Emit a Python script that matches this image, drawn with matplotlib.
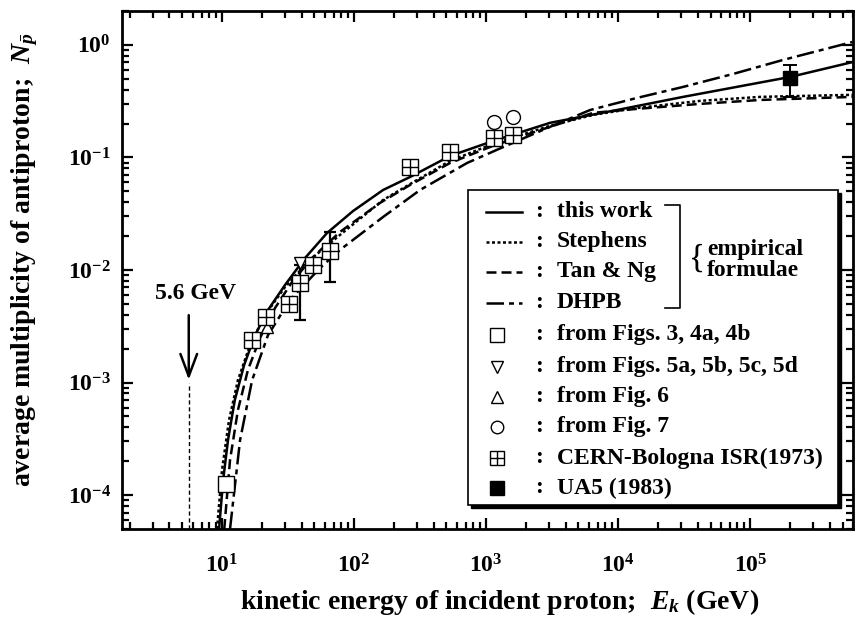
import numpy as np
import matplotlib
matplotlib.use("Agg")
import matplotlib.pyplot as plt
from matplotlib.lines import Line2D
from matplotlib.patches import Rectangle

plt.rcParams['font.family'] = ['Liberation Serif', 'DejaVu Serif']
plt.rcParams['font.weight'] = 'bold'
plt.rcParams['mathtext.fontset'] = 'custom'
plt.rcParams['mathtext.rm'] = 'Liberation Serif:bold'
plt.rcParams['mathtext.bf'] = 'Liberation Serif:bold'
plt.rcParams['mathtext.it'] = 'Liberation Serif:italic'

# curves (kinetic energy in GeV, multiplicity)
this_work_E = [9.5, 10.2, 11.1, 12.5, 14.7, 17.8, 22.3, 30.0, 42.6, 62.4, 98.2, 166, 266, 533,
               1130, 3050, 9830, 31000, 2.01e5, 6.03e5]
this_work_N = [5.0e-5, 1.36e-4, 3.08e-4, 6.99e-4, 1.43e-3, 2.64e-3, 4.41e-3, 7.36e-3, 1.28e-2,
               2.13e-2, 3.34e-2, 5.14e-2, 6.71e-2, 0.103, 0.140, 0.203, 0.264, 0.345, 0.519, 0.706]

stephens_E = [9.17, 10.0, 11.3, 13.2, 16.3, 21.2, 30.0, 46.4, 78.3, 166, 266, 533, 1130, 3050,
              6470, 13900, 41800, 1.19e5, 6.03e5]
stephens_N = [5.0e-5, 1.67e-4, 4.64e-4, 1.05e-3, 2.15e-3, 3.98e-3, 7.06e-3, 1.23e-2, 2.05e-2,
              4.19e-2, 5.81e-2, 9.31e-2, 0.132, 0.191, 0.239, 0.275, 0.318, 0.345, 0.360]

tan_ng_E = [10.4, 11.5, 13.2, 15.7, 19.4, 25.2, 33.9, 48.1, 78.3, 157, 266, 533, 1130, 3050,
            6470, 13900, 41800, 1.19e5, 6.03e5]
tan_ng_N = [5.0e-5, 2.05e-4, 5.70e-4, 1.29e-3, 2.49e-3, 4.59e-3, 7.82e-3, 1.28e-2, 2.18e-2,
            3.94e-2, 5.70e-2, 8.93e-2, 0.127, 0.187, 0.249, 0.270, 0.299, 0.324, 0.345]

dhpb_E = [11.5, 13.7, 16.9, 22.3, 32.7, 55.2, 78.3, 166, 316, 718, 1210, 3050, 6140, 13900,
          31000, 74300, 1.78e5, 5.93e5]
dhpb_N = [5.0e-5, 3.08e-4, 1.05e-3, 2.64e-3, 5.41e-3, 1.04e-2, 1.51e-2, 2.96e-2, 5.14e-2,
          8.93e-2, 0.117, 0.187, 0.264, 0.338, 0.423, 0.552, 0.736, 1.06]

# data points
figs34_E = [10.7]
figs34_N = [1.25e-4]
figs5_E = [39.0]
figs5_N = [1.15e-2]
fig6_E = [21.9]
fig6_N = [3.11e-3]
fig7_E = [1150, 1600]
fig7_N = [0.207, 0.229]
isr_E = [16.9, 21.5, 32.2, 39.0, 48.9, 65.8, 266, 533, 1150, 1600]
isr_N = [2.39e-3, 3.82e-3, 4.99e-3, 7.66e-3, 1.11e-2, 1.48e-2, 0.0823, 0.112, 0.149, 0.158]
isr_err_E = [39.0, 65.8]
isr_err_N = [7.66e-3, 1.48e-2]
isr_err_lo = [3.6e-3, 7.82e-3]
isr_err_hi = [1.11e-2, 2.18e-2]
ua5_E = [2.0e5]
ua5_N = [0.509]
ua5_lo = [0.345]
ua5_hi = [0.664]

threshold = 5.6

x_ticks = [1e1, 1e2, 1e3, 1e4, 1e5]
x_labels = [r'$\mathbf{10^{1}}$', r'$\mathbf{10^{2}}$', r'$\mathbf{10^{3}}$',
            r'$\mathbf{10^{4}}$', r'$\mathbf{10^{5}}$']
y_ticks = [1e-4, 1e-3, 1e-2, 1e-1, 1e0]
y_labels = [r'$\mathbf{10^{-4}}$', r'$\mathbf{10^{-3}}$', r'$\mathbf{10^{-2}}$',
            r'$\mathbf{10^{-1}}$', r'$\mathbf{10^{0}}$']

legend_labels = ['this work', 'Stephens', 'Tan & Ng', 'DHPB', 'from Figs. 3, 4a, 4b',
                 'from Figs. 5a, 5b, 5c, 5d', 'from Fig. 6', 'from Fig. 7',
                 'CERN-Bologna ISR(1973)', 'UA5 (1983)']

ls_solid = '-'
ls_steph = (0, (1.2, 1.0))
ls_tan = (0, (4, 2))
ls_dhpb = (0, (7, 2, 2, 2))

fig = plt.figure(figsize=(8.57, 6.2), dpi=100)
ax = fig.add_axes([0.1424, 0.1468, 0.8530, 0.8355])
ax.set_xscale('log')
ax.set_yscale('log')
ax.set_xlim(1.75, 6.0e5)
ax.set_ylim(5.0e-5, 2.0)

ax.plot(this_work_E, this_work_N, color='black', lw=1.8, ls=ls_solid)
ax.plot(stephens_E, stephens_N, color='black', lw=1.8, ls=ls_steph)
ax.plot(tan_ng_E, tan_ng_N, color='black', lw=1.8, ls=ls_tan)
ax.plot(dhpb_E, dhpb_N, color='black', lw=1.8, ls=ls_dhpb)

# error bars
ax.errorbar(isr_err_E, isr_err_N,
            yerr=[np.array(isr_err_N) - np.array(isr_err_lo), np.array(isr_err_hi) - np.array(isr_err_N)],
            fmt='none', ecolor='black', elinewidth=1.6, capsize=4, capthick=1.6, zorder=3)
ax.errorbar(ua5_E, ua5_N,
            yerr=[np.array(ua5_N) - np.array(ua5_lo), np.array(ua5_hi) - np.array(ua5_N)],
            fmt='none', ecolor='black', elinewidth=1.4, capsize=5, capthick=1.4, zorder=3)

mk = dict(ls='none', color='black', mfc='white', mew=1.0, zorder=5)
ax.plot(figs34_E, figs34_N, marker='s', ms=11, **mk)
ax.plot(figs5_E, figs5_N, marker='v', ms=9, **mk)
ax.plot(fig6_E, fig6_N, marker='^', ms=9, **mk)
ax.plot(fig7_E, fig7_N, marker='o', ms=10, **mk)
ax.plot(isr_E, isr_N, marker='s', ms=11, **mk)
ax.plot(isr_E, isr_N, marker='+', ms=11, ls='none', color='black', mew=1.0, zorder=6)
ax.plot(ua5_E, ua5_N, marker='s', ms=10, ls='none', color='black', zorder=5)

# 5.6 GeV threshold
ax.plot([threshold, threshold], [5.0e-5, 1.0e-3], color='black', lw=1.0, ls=(0, (3, 2)))
ax.annotate('', xy=(threshold, 1.0e-3), xytext=(threshold, 4.2e-3),
            arrowprops=dict(arrowstyle='->,head_length=0.8,head_width=0.3',
                            mutation_scale=20, lw=1.8, color='black'))
ax.annotate('5.6 GeV', xy=(threshold, 6.2e-3), xytext=(5, 0), textcoords='offset points',
            ha='center', va='center', fontsize=17, fontweight='bold')

ax.set_xticks(x_ticks)
ax.set_xticklabels(x_labels)
ax.set_yticks(y_ticks)
ax.set_yticklabels(y_labels)
ax.tick_params(which='both', direction='in', top=True, right=True, width=1.6)
ax.tick_params(which='major', length=8)
ax.tick_params(which='minor', length=5)
ax.tick_params(axis='x', which='major', labelsize=17, pad=18)
ax.tick_params(axis='y', which='major', labelsize=17, pad=8)
for s in ax.spines.values():
    s.set_linewidth(2.0)

ax.set_xlabel(r'kinetic energy of incident proton;  $E_k$ (GeV)', fontsize=20, fontweight='bold')
ax.set_ylabel(r'average multiplicity of antiproton;  $N_{\bar{p}}$', fontsize=20, fontweight='bold')
ax.xaxis.set_label_coords(0.517, -0.112)
ax.yaxis.set_label_coords(-0.112, 0.52)


# legend box drawn by hand, positions given in picture pixels
def axpos(x, y):
    return (x - 122) / 731, (529 - y) / 518


bx, by = axpos(468, 505)
bw, bh = 370 / 731, 315 / 518
sx, sy = axpos(471, 508)
ax.add_patch(Rectangle((sx, sy), bw, bh, transform=ax.transAxes, facecolor='black',
                       edgecolor='black', zorder=10, clip_on=False))
ax.add_patch(Rectangle((bx, by), bw, bh, transform=ax.transAxes, facecolor='white',
                       edgecolor='black', lw=1.2, zorder=11, clip_on=False))

rows_y = [212, 242, 272, 303, 335, 367, 397, 427, 458, 488]
styles = [ls_solid, ls_steph, ls_tan, ls_dhpb]
markers = [('s', 'white', 10), ('v', 'white', 9), ('^', 'white', 9), ('o', 'white', 9),
           ('s', 'white', 10), ('s', 'black', 10)]
for i, (lab, ry) in enumerate(zip(legend_labels, rows_y)):
    if i < 4:
        x0, y0 = axpos(486, ry)
        x1, _ = axpos(522, ry)
        ax.add_line(Line2D([x0, x1], [y0, y0], transform=ax.transAxes, color='black', lw=1.8,
                           ls=styles[i], zorder=12, clip_on=False))
    else:
        m, fc, ms = markers[i - 4]
        mx, my = axpos(497, ry)
        ax.add_line(Line2D([mx], [my], transform=ax.transAxes, marker=m, ms=ms, mfc=fc,
                           mec='black', mew=1.0, ls='none', zorder=12, clip_on=False))
        if i == 8:
            ax.add_line(Line2D([mx], [my], transform=ax.transAxes, marker='+', ms=ms,
                               color='black', mew=1.0, ls='none', zorder=13, clip_on=False))
    cx, cy = axpos(539, ry)
    ax.text(cx, cy, ':', transform=ax.transAxes, ha='center', va='center', fontsize=17,
            fontweight='bold', zorder=12)
    tx, ty = axpos(557, ry)
    ax.text(tx, ty, lab, transform=ax.transAxes, ha='left', va='center', fontsize=17,
            fontweight='bold', zorder=12)

# bracket for the empirical formulae
pts = [axpos(665, 205), axpos(680, 205), axpos(680, 308), axpos(665, 308)]
ax.add_line(Line2D([p[0] for p in pts], [p[1] for p in pts], transform=ax.transAxes,
                   color='black', lw=1.2, zorder=12, clip_on=False))
bx2, by2 = axpos(697, 259)
ax.text(bx2, by2, '{', transform=ax.transAxes, ha='center', va='center', fontsize=24,
        fontweight='normal', zorder=12)
ex, ey = axpos(707, 250)
ax.text(ex, ey, 'empirical', transform=ax.transAxes, ha='left', va='center', fontsize=17,
        fontweight='bold', zorder=12)
fx_, fy_ = axpos(707, 271)
ax.text(fx_, fy_, 'formulae', transform=ax.transAxes, ha='left', va='center', fontsize=17,
        fontweight='bold', zorder=12)

plt.savefig('out.png', dpi=100)
